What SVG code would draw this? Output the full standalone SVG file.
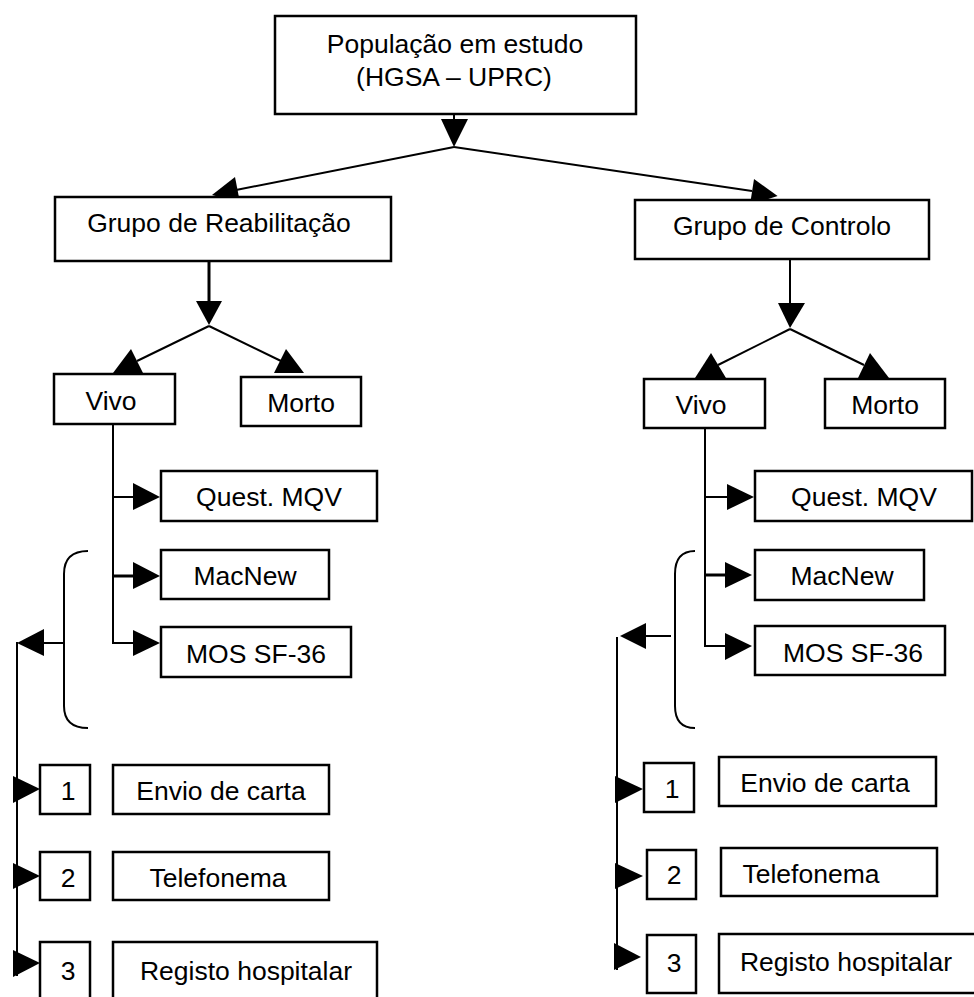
<svg xmlns="http://www.w3.org/2000/svg" width="974" height="997" viewBox="0 0 974 997">
<style>
.box{fill:#fff;stroke:#000;stroke-width:2.5}
.ln{fill:none;stroke:#000;stroke-width:2}
.thk{fill:none;stroke:#000;stroke-width:3}
.ah{fill:#000;stroke:none}
text{font-family:"Liberation Sans",Arial,sans-serif;font-size:26.5px;fill:#000;text-anchor:middle}
</style>
<rect width="974" height="997" fill="#fff"/>
<g id="connectors">
  <line class="ln" x1="454" y1="114" x2="454" y2="120"/>
  <polygon class="ah" points="441,119 468,119 454,147"/>
  <line class="ln" x1="454" y1="147" x2="236" y2="190"/>
  <polygon class="ah" points="235,177 240,202.5 212,195"/>
  <line class="ln" x1="454" y1="147" x2="752" y2="191"/>
  <polygon class="ah" points="754,179 750,204.7 777.6,196"/>
  <line class="thk" x1="209" y1="258" x2="209" y2="302"/>
  <polygon class="ah" points="196,301 222,301 209,325"/>
  <line class="ln" x1="209" y1="326" x2="137" y2="361"/>
  <polygon class="ah" points="131,349 143,373 113,373"/>
  <line class="ln" x1="209" y1="326" x2="281" y2="361"/>
  <polygon class="ah" points="286,349 274,373 304,373"/>
  <line class="ln" x1="790" y1="259" x2="790" y2="304"/>
  <polygon class="ah" points="778,303 805,303 790,328"/>
  <line class="ln" x1="790" y1="329" x2="718" y2="365"/>
  <polygon class="ah" points="711,353 726,378 695,378"/>
  <line class="ln" x1="790" y1="329" x2="864" y2="365"/>
  <polygon class="ah" points="870,353 858,378 889,378"/>
  <polyline class="ln" points="113,424 113,643 134,643"/>
  <line class="ln" x1="113" y1="497" x2="134" y2="497"/>
  <line class="thk" x1="113" y1="576" x2="134" y2="576"/>
  <polygon class="ah" points="133,483 133,510 160,497"/>
  <polygon class="ah" points="133,562 133,589 160,576"/>
  <polygon class="ah" points="133,630 133,656 160,643"/>
  <path class="ln" d="M88,551 Q64,551 64,574 L64,706 Q64,728 88,728"/>
  <line class="ln" x1="64" y1="643" x2="43" y2="643"/>
  <polygon class="ah" points="44,629 44,656 17,643"/>
  <line class="ln" x1="17" y1="642" x2="17" y2="976"/>
  <polygon class="ah" points="13,776 13,803 40,789"/>
  <polygon class="ah" points="13,863 13,889 40,876"/>
  <polygon class="ah" points="13,950 13,977 40,963"/>
  <polyline class="ln" points="705,428 705,646 726,646"/>
  <line class="ln" x1="705" y1="497" x2="728" y2="497"/>
  <line class="thk" x1="705" y1="575" x2="726" y2="575"/>
  <polygon class="ah" points="727,484 727,510 754,497"/>
  <polygon class="ah" points="725,562 725,588 752,575"/>
  <polygon class="ah" points="725,633 725,660 752,646"/>
  <path class="ln" d="M695,551 Q675,551 675,574 L675,706 Q675,728 695,728"/>
  <line class="ln" x1="671" y1="636" x2="645" y2="636"/>
  <polygon class="ah" points="646,623 646,649 620,636"/>
  <line class="ln" x1="617" y1="637" x2="617" y2="970"/>
  <polygon class="ah" points="615,776 615,803 643,789"/>
  <polygon class="ah" points="615,863 615,889 643,876"/>
  <polygon class="ah" points="614,943 614,970 641,957"/>
</g>
<g id="node-populacao"><rect class="box" x="275" y="16" width="361" height="98"/><text x="455" y="53">População em estudo</text><text x="454" y="86">(HGSA – UPRC)</text></g>
<g id="node-reabilitacao"><rect class="box" x="55" y="197" width="336" height="64"/><text x="219" y="232">Grupo de Reabilitação</text></g>
<g id="node-controlo"><rect class="box" x="635" y="200" width="294" height="59"/><text x="782" y="235">Grupo de Controlo</text></g>
<g id="node-vivo-l"><rect class="box" x="54" y="374" width="121" height="50"/><text x="111" y="410">Vivo</text></g>
<g id="node-morto-l"><rect class="box" x="241" y="377" width="120" height="49"/><text x="301" y="412">Morto</text></g>
<g id="node-vivo-r"><rect class="box" x="644" y="379" width="121" height="49"/><text x="701" y="414">Vivo</text></g>
<g id="node-morto-r"><rect class="box" x="825" y="379" width="120" height="49"/><text x="885" y="414">Morto</text></g>
<g id="node-quest-l"><rect class="box" x="161" y="471" width="216" height="50"/><text x="269" y="506">Quest. MQV</text></g>
<g id="node-macnew-l"><rect class="box" x="161" y="550" width="168" height="49"/><text x="245" y="585">MacNew</text></g>
<g id="node-mos-l"><rect class="box" x="161" y="627" width="190" height="50"/><text x="256" y="663">MOS SF-36</text></g>
<g id="node-quest-r"><rect class="box" x="755" y="471" width="217" height="50"/><text x="864" y="506">Quest. MQV</text></g>
<g id="node-macnew-r"><rect class="box" x="755" y="550" width="169" height="50"/><text x="842" y="585">MacNew</text></g>
<g id="node-mos-r"><rect class="box" x="755" y="626" width="190" height="49"/><text x="853" y="662">MOS SF-36</text></g>
<g id="node-1-l"><rect class="box" x="40" y="765" width="50" height="49"/><text x="68" y="800">1</text></g>
<g id="node-envio-l"><rect class="box" x="113" y="765" width="216" height="49"/><text x="221" y="800">Envio de carta</text></g>
<g id="node-2-l"><rect class="box" x="40" y="852" width="50" height="48"/><text x="68" y="887">2</text></g>
<g id="node-tel-l"><rect class="box" x="113" y="852" width="216" height="48"/><text x="218" y="887">Telefonema</text></g>
<g id="node-3-l"><rect class="box" x="40" y="942" width="50" height="70"/><text x="68" y="980">3</text></g>
<g id="node-registo-l"><rect class="box" x="113" y="942" width="264" height="70"/><text x="246" y="980">Registo hospitalar</text></g>
<g id="node-1-r"><rect class="box" x="644" y="763" width="50" height="49"/><text x="672" y="798">1</text></g>
<g id="node-envio-r"><rect class="box" x="719" y="757" width="217" height="49"/><text x="825" y="792">Envio de carta</text></g>
<g id="node-2-r"><rect class="box" x="647" y="850" width="49" height="49"/><text x="674" y="884">2</text></g>
<g id="node-tel-r"><rect class="box" x="721" y="848" width="216" height="48"/><text x="811" y="883">Telefonema</text></g>
<g id="node-3-r"><rect class="box" x="647" y="935" width="49" height="58"/><text x="674" y="972">3</text></g>
<g id="node-registo-r"><rect class="box" x="719" y="934" width="270" height="59"/><text x="846" y="971">Registo hospitalar</text></g>
</svg>
